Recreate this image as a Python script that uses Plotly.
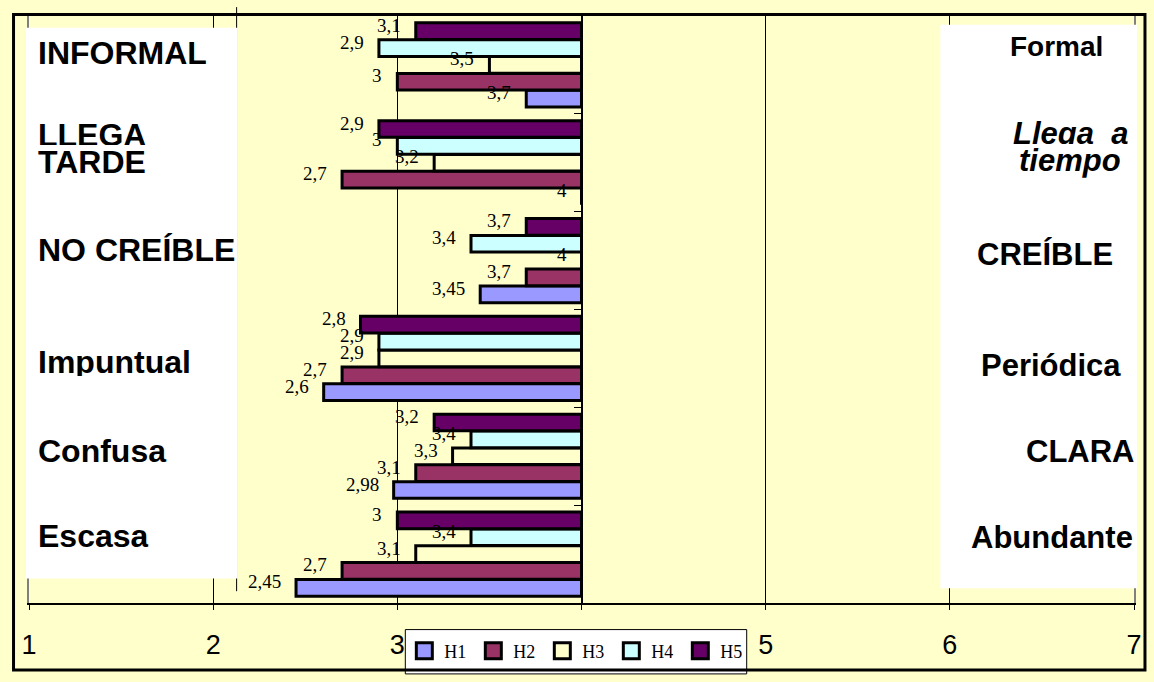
import plotly.graph_objects as go

# ---- data -------------------------------------------------------------
# Semantic-differential items, listed bottom to top
left_poles = ["Escasa", "Confusa", "Impuntual", "NO CREÍBLE", "LLEGA TARDE", "INFORMAL"]
right_poles = ["Abundante", "CLARA", "Periódica", "CREÍBLE", "Llega a tiempo", "Formal"]
series_names = ["H1", "H2", "H3", "H4", "H5"]

h1 = [2.45, 2.98, 2.6, 3.45, 4, 3.7]
h2 = [2.7, 3.1, 2.7, 3.7, 2.7, 3]
h3 = [3.1, 3.3, 2.9, 4, 3.2, 3.5]
h4 = [3.4, 3.4, 2.9, 3.4, 3, 2.9]
h5 = [3, 3.2, 2.8, 3.7, 2.9, 3.1]

x_ticks = [1, 2, 3, 4, 5, 6, 7]
x_tick_labels = ["1", "2", "3", "", "5", "6", "7"]  # "4" sits under the legend
scale_mid = 4  # bars grow from the neutral point of the 1-7 scale

series_values = [h1, h2, h3, h4, h5]

# ---- styling ------------------------------------------------------------
W, H = 1154, 682
ML, MR, MT, MB = 29, 18, 16, 70
PW, PH = W - ML - MR, H - MT - MB

colors = ["#9999FF", "#993366", "#FFFFCC", "#CCFFFF", "#660066"]
bar_offsets = [-0.345, -0.172, 0.0, 0.172, 0.345]
bar_width = 0.17
bg = "#FFFFCC"
sans = "Liberation Sans, Arial, sans-serif"
serif = "Liberation Serif, Times New Roman, serif"


def px_x(px):
    return (px - ML) / PW


def px_y(py):
    return (H - MB - py) / PH


def fmt(v):
    return ("%g" % v).replace(".", ",")


fig = go.Figure()

cats = list(range(len(left_poles)))
for name, vals, col, off in zip(series_names, series_values, colors, bar_offsets):
    fig.add_trace(go.Bar(
        y=[c + off for c in cats],
        x=[v - scale_mid for v in vals],
        base=scale_mid,
        orientation="h",
        width=bar_width,
        marker=dict(color=col, line=dict(color="black", width=3)),
        showlegend=False,
        hoverinfo="skip",
    ))

# legend entries (square swatches)
for name, col in zip(series_names, colors):
    fig.add_trace(go.Scatter(
        x=[None], y=[None], yaxis="y2", mode="markers", name=name,
        marker=dict(symbol="square", size=16, color=col,
                    line=dict(color="black", width=3)),
    ))

annotations = []
# value labels at the end of each bar
for vals, off in zip(series_values, bar_offsets):
    for c, v in zip(cats, vals):
        annotations.append(dict(
            x=v, y=c + off, xref="x", yref="y", text=fmt(v), showarrow=False,
            xanchor="right", yanchor="middle",
            xshift=-15, yshift=6, borderpad=0, borderwidth=0,
            font=dict(family=serif, size=19, color="black"),
        ))

# pole labels: (centre y px, clip) per text line; a number clips the
# bottom of the line at that pixel row, "tight"/"trimtop" shrink the box
left_lines = {
    0: [(546.5, 555)], 1: [(457.5, None)], 2: [(370, 381.5)],
    3: [(254, None)], 4: [(139.5, 147), (164.7, "tight")], 5: [(53.3, None)],
}
right_lines = {
    0: [(1135, 546, None)], 1: [(1137, 458, None)], 2: [(1123, 371, None)],
    3: [(1115, 258, None)], 4: [(1130, 137, 145), (1123, 163, "trimtop")],
    5: [(1105, 46.5, None)],
}
left_size = 32
right_sizes = {5: 28}
FS = 31
ASC = 0.905
LINE_H = 1.15
NUDGE = 3  # glyphs sit slightly below the measured text box top


def pole_annotation(text, xpx, anchor, cy, clip, font):
    size = font["size"]
    base = dict(xref="paper", yref="paper", text=text, showarrow=False,
                xanchor=anchor, x=px_x(xpx), font=font,
                borderpad=0, borderwidth=0)
    if clip is None:
        return dict(base, y=px_y(cy), yanchor="middle")
    if clip == "tight":
        return dict(base, y=px_y(cy), yanchor="middle", valign="middle",
                    height=0.84 * size)
    if clip == "trimtop":
        full = LINE_H * size
        return dict(base, y=px_y(cy + full / 2), yanchor="bottom",
                    valign="bottom", height=full - 5)
    cap_top = cy - 0.358 * size
    baseline = cap_top + 0.716 * size
    text_top = baseline - ASC * size - NUDGE
    return dict(base, y=px_y(text_top), yanchor="top",
                valign="top", height=clip - text_top)


for i, label in enumerate(left_poles):
    lines = label.rsplit(" ", 1) if len(left_lines[i]) > 1 else [label]
    for txt, (cy, clip) in zip(lines, left_lines[i]):
        annotations.append(pole_annotation(
            txt, 38, "left", cy, clip,
            dict(family=sans, size=left_size, color="black", weight="bold")))

for i, label in enumerate(right_poles):
    lines = label.rsplit(" ", 1) if len(right_lines[i]) > 1 else [label]
    italic = len(lines) > 1
    for txt, (rx, cy, clip) in zip(lines, right_lines[i]):
        if italic:
            txt = txt.replace(" ", "\u00a0\u00a0")
        annotations.append(pole_annotation(
            txt, rx, "right", cy, clip,
            dict(family=sans, size=right_sizes.get(i, FS), color="black",
                 weight="bold", style="italic" if italic else "normal")))


def paper_rect(x0, y0, x1, y1, **kw):
    return dict(type="rect", xref="paper", yref="paper", layer="above",
                x0=px_x(x0), x1=px_x(x1), y0=px_y(y1), y1=px_y(y0), **kw)


shapes = [
    dict(type="line", xref="paper", yref="paper", layer="above",
         x0=px_x(237), x1=px_x(237), y0=px_y(600), y1=px_y(7),
         line=dict(color="black", width=1)),
    paper_rect(26, 28, 238, 587, fillcolor="white", line=dict(width=0)),
    paper_rect(942, 25, 1139, 597, fillcolor="white", line=dict(width=0)),
    paper_rect(406, 639, 748, 684, fillcolor="white",
               line=dict(color="black", width=1)),
    paper_rect(13.5, 14.5, 1147, 680, fillcolor="rgba(0,0,0,0)",
               line=dict(color="black", width=3)),
]

fig.update_layout(
    width=W, height=H,
    margin=dict(l=ML, r=MR, t=MT, b=MB, pad=0),
    paper_bgcolor=bg, plot_bgcolor=bg,
    barmode="overlay",
    xaxis=dict(
        range=[x_ticks[0], x_ticks[-1]], tickmode="array",
        tickvals=x_ticks, ticktext=x_tick_labels,
        showgrid=True, gridcolor="black", gridwidth=1, zeroline=False,
        showline=True, linecolor="black", linewidth=2,
        ticks="outside", ticklen=5, tickcolor="black", tickwidth=1,
        tickfont=dict(family=sans, size=27, color="black"),
        ticklabelstandoff=12,
    ),
    yaxis=dict(
        range=[-0.5, len(cats) - 0.5], showgrid=False, zeroline=False,
        showticklabels=False, showline=True, linecolor="#808080",
        linewidth=2, mirror=True, ticks="",
    ),
    yaxis2=dict(
        range=[-0.5, len(cats) - 0.5], overlaying="y", anchor="free",
        position=(scale_mid - x_ticks[0]) / (x_ticks[-1] - x_ticks[0]),
        side="left", showgrid=False, zeroline=False, showticklabels=False,
        showline=True, linecolor="black", linewidth=2,
        ticks="outside", ticklen=7, tickcolor="black", tickwidth=1,
        tickmode="array", tickvals=[c + 0.5 for c in cats[:-1]],
    ),
    showlegend=True,
    legend=dict(
        orientation="h", x=px_x(405), y=px_y(642), xanchor="left",
        yanchor="top", bgcolor="rgba(0,0,0,0)", borderwidth=0,
        entrywidth=24, entrywidthmode="pixels",
        font=dict(family=serif, size=18, color="black"),
    ),
    annotations=annotations,
    shapes=shapes,
)

fig.write_html("out.html",
               post_script="document.body.style.margin='0';")
